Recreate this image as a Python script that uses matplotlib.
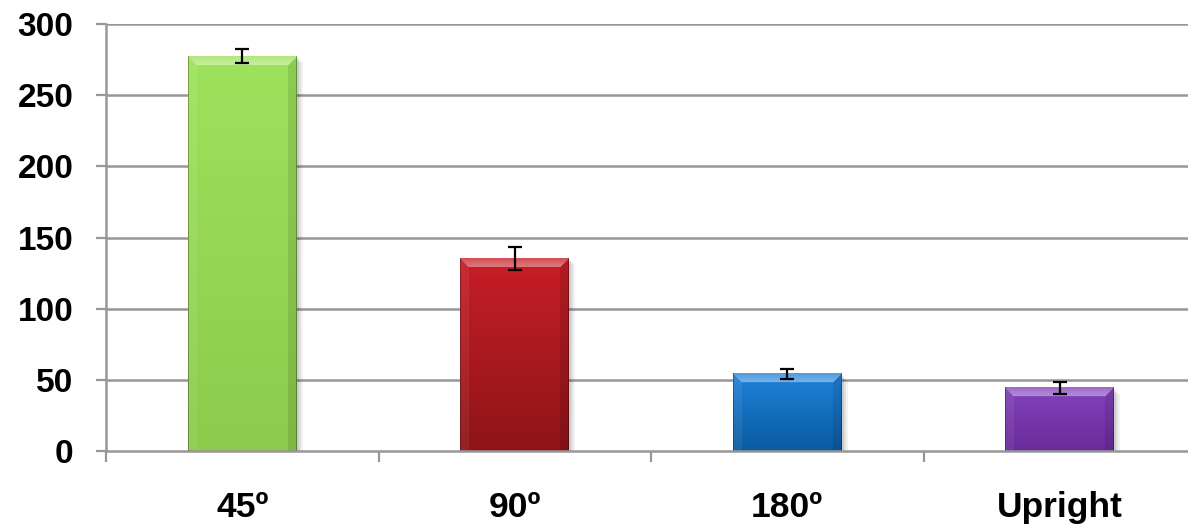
import numpy as np
import matplotlib
matplotlib.use("Agg")
import matplotlib.pyplot as plt
from matplotlib.patches import Rectangle
from matplotlib.colors import to_rgb

categories = ["45º", "90º", "180º", "Upright"]
values = [277.5, 135.3, 54.2, 44.3]
errors = [5.0, 8.0, 3.5, 4.0]
yticks = [0, 50, 100, 150, 200, 250, 300]
face_top = ["#9EE25C", "#C81E27", "#1F82D8", "#8242BC"]
face_bottom = ["#8CCB4C", "#8E1418", "#0B5BA2", "#6A2C9A"]

W, H = 1188, 528
fig = plt.figure(figsize=(W / 100, H / 100), dpi=100)
ax = fig.add_axes([106 / W, 77 / H, (1196 - 106) / W, (451 - 24) / H])

x = np.arange(len(categories))
bw = 0.4
ax.set_xlim(-0.5, len(categories) - 0.5)
ax.set_ylim(0, 300)

grid_c = "#979797"
for yv in yticks[1:]:
    ax.axhline(yv, color=grid_c, lw=1.8, zorder=0.5)

bars = ax.bar(x, values, width=bw, color="none", edgecolor="none", zorder=2)

px_per_x = (1196 - 106) / (len(categories))
px_per_y = (451 - 24) / 300.0
bev = 9

for i, b in enumerate(bars):
    x0, y0 = b.get_x(), b.get_y()
    w, h = b.get_width(), b.get_height()
    for k, a in zip([6, 4, 2], [0.05, 0.07, 0.09]):
        ax.add_patch(Rectangle((x0 + k / px_per_x, y0), w, h - k / px_per_y,
                               facecolor="black", alpha=a, edgecolor="none", zorder=1.5))
    wp = int(round(w * px_per_x))
    hp = max(int(round(h * px_per_y)), 2)
    yy, xx = np.mgrid[0:hp, 0:wp]
    t = yy / max(hp - 1, 1)
    ct = np.array(to_rgb(face_top[i]))
    cb = np.array(to_rgb(face_bottom[i]))
    img = ct[None, None, :] * (1 - t[..., None]) + cb[None, None, :] * t[..., None]
    dtop = yy
    dleft = xx
    dright = wp - 1 - xx
    top_m = (dtop <= dleft) & (dtop <= dright) & (dtop < bev)
    left_m = (dleft < dtop) & (dleft <= dright) & (dleft < bev)
    right_m = (dright < dtop) & (dright < dleft) & (dright < bev)
    frac = (dtop / bev)[..., None]
    light = img + (1 - img) * (0.22 + 0.2 * frac)
    dark = img * 0.9
    slight = img + (1 - img) * 0.06
    img = np.where(top_m[..., None], light, img)
    img = np.where(left_m[..., None], slight, img)
    img = np.where(right_m[..., None], dark, img)
    edge = (dleft == 0) | (dright == 0)
    img = np.where(edge[..., None], img * 0.7, img)
    img = np.clip(img, 0, 1)
    ax.imshow(img, extent=(x0, x0 + w, y0, y0 + h), origin="upper",
              aspect="auto", zorder=2.2, interpolation="bilinear")

ax.set_xlim(-0.5, len(categories) - 0.5)
ax.set_ylim(0, 300)

ax.errorbar(x, values, yerr=errors, fmt="none", ecolor="black", elinewidth=1.6,
            capsize=4.8, capthick=1.6, zorder=3)

for s in ["top", "right"]:
    ax.spines[s].set_visible(False)
for s in ["left", "bottom"]:
    ax.spines[s].set_color(grid_c)
    ax.spines[s].set_linewidth(1.8)

ax.set_yticks(yticks)
ax.set_yticklabels([str(v) for v in yticks], fontsize=24, fontweight="bold",
                   family="Liberation Sans")
ax.tick_params(axis="y", length=7.5, width=1.6, color=grid_c, pad=16)

ax.set_xticks(x)
ax.set_xticklabels(categories, fontsize=25.5, fontweight="bold", family="Liberation Sans")
ax.tick_params(axis="x", which="major", length=0, pad=29)
ax.set_xticks(np.arange(-0.5, len(categories) + 0.5, 1), minor=True)
ax.tick_params(axis="x", which="minor", length=8, width=1.6, color=grid_c)

fig.savefig("out.png", dpi=100)
